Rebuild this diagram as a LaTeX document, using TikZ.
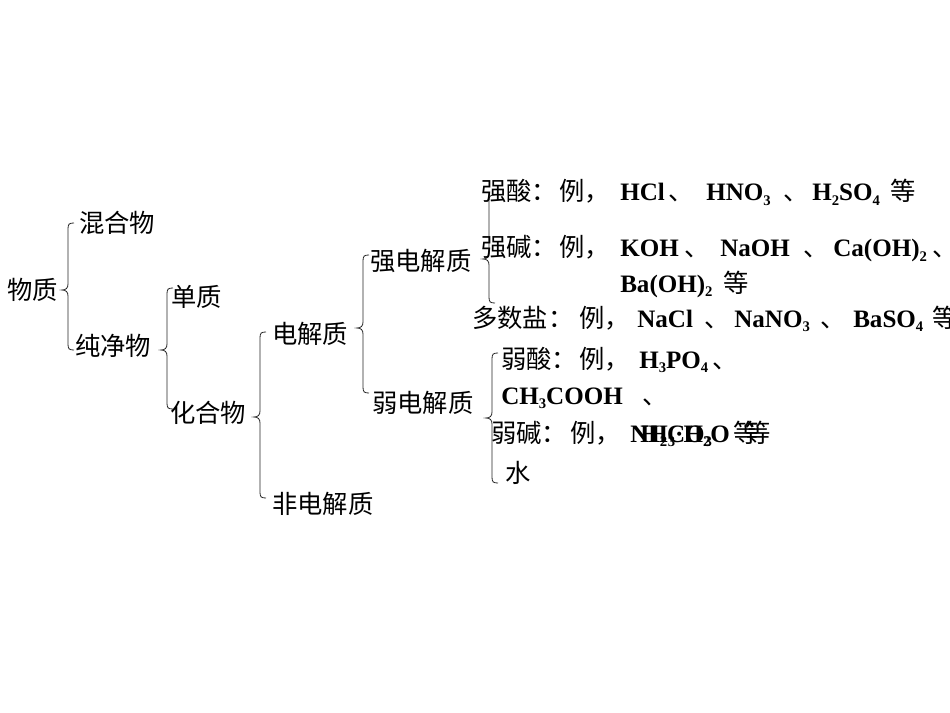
\documentclass[tikz,border=0pt]{standalone}
\usepackage{fontspec}
\setmainfont{Liberation Serif}
\newfontfamily\cjk{Noto Sans CJK SC}
\newcommand\sub[1]{\raisebox{-3.5pt}{\fontsize{11}{11}\selectfont #1}}
\newcommand\cbrace[4]{%
\draw[br] ({#1+6},#2) .. controls ({#1+1},#2) and (#1,{#2+1}) .. (#1,{#2+6}) -- (#1,{#3-6}) .. controls (#1,{#3-2}) and ({#1-2},#3) .. ({#1-6},#3) .. controls ({#1-2},#3) and (#1,{#3+2}) .. (#1,{#3+6}) -- (#1,{#4-6}) .. controls (#1,{#4-1}) and ({#1+1},#4) .. ({#1+6},#4);}
\begin{document}
\begin{tikzpicture}[x=0.75pt,y=-0.75pt,
 zh/.style={anchor=base west,inner sep=0pt,font=\cjk\fontsize{19}{21}\selectfont},
 en/.style={anchor=base west,inner sep=0pt,font=\bfseries\fontsize{18.8}{21}\selectfont},
 br/.style={line width=0.6pt,black!85}]
\useasboundingbox[fill=white] (0,0) rectangle (950,713);
% braces
\cbrace{68}{223}{290}{350}
\cbrace{167}{288}{350}{409}
\cbrace{260}{332}{417}{498}
\cbrace{363}{255}{328}{393}
\cbrace{489}{195}{259}{303}
\cbrace{492}{353}{418}{483}
% left tree
\node[zh] (wz) at (7,299) {物质};
\node[zh] (hhw) at (79,233) {混合物};
\node[zh] (cjw) at (75,355) {纯净物};
\node[zh] (dz) at (171,306) {单质};
\node[zh] (hhw2) at (170,422) {化合物};
\node[zh] (djz) at (272,343) {电解质};
\node[zh] (fdjz) at (272,513) {非电解质};
\node[zh] (qdjz) at (370,271) {强电解质};
\node[zh] (rdjz) at (372,412) {弱电解质};
% strong acids
\node[zh] (qa1) at (481,201) {强酸：};
\node[zh] (qa2) at (559,201) {例，};
\node[en] (qa3) at (620,201) {HCl};
\node[zh] (qa4) at (668,201) {、};
\node[en] (qa5) at (706,201) {HNO\sub{3}};
\node[zh] (qa6) at (783,201) {、};
\node[en] (qa7) at (812,201) {H\sub{2}SO\sub{4}};
\node[zh] (qa8) at (890,201) {等};
% strong bases
\node[zh] (qb1) at (481,257) {强碱：};
\node[zh] (qb2) at (559,257) {例，};
\node[en] (qb3) at (620,257) {KOH};
\node[zh] (qb4) at (684,257) {、};
\node[en] (qb5) at (720,257) {NaOH};
\node[zh] (qb6) at (803,257) {、};
\node[en] (qb7) at (833,257) {Ca(OH)\sub{2}};
\node[zh] (qb8) at (932,257) {、};
\node[en] (qb9) at (620,292) {Ba(OH)\sub{2}};
\node[zh] (qb10) at (723,292) {等};
% salts
\node[zh] (sa1) at (472,327) {多数盐：};
\node[zh] (sa2) at (579,327) {例，};
\node[en] (sa3) at (637,327) {NaCl};
\node[zh] (sa4) at (704,327) {、};
\node[en] (sa5) at (734,327) {NaNO\sub{3}};
\node[zh] (sa6) at (820,327) {、};
\node[en] (sa7) at (853,327) {BaSO\sub{4}};
\node[zh] (sa8) at (932,327) {等};
% weak acids
\node[zh] (ra1) at (501,368) {弱酸：};
\node[zh] (ra2) at (579,368) {例，};
\node[en] (ra3) at (639,368) {H\sub{3}PO\sub{4}};
\node[zh] (ra4) at (712,368) {、};
\node[en] (ra5) at (501,404) {CH\sub{3}COOH};
\node[zh] (ra6) at (642,404) {、};
\node[en] (ra7) at (640,442) {H\sub{2}CO\sub{3}};
\node[zh] (ra8) at (745,442) {等};
% weak bases
\node[zh] (rb1) at (491,442) {弱碱：};
\node[zh] (rb2) at (570,442) {例，};
\node[en] (rb3) at (630,442) {NH\sub{3}·H\sub{2}O};
\node[zh] (rb4) at (733,442) {等};
% water
\node[zh] (sh) at (505,482) {水};
\end{tikzpicture}
\end{document}
